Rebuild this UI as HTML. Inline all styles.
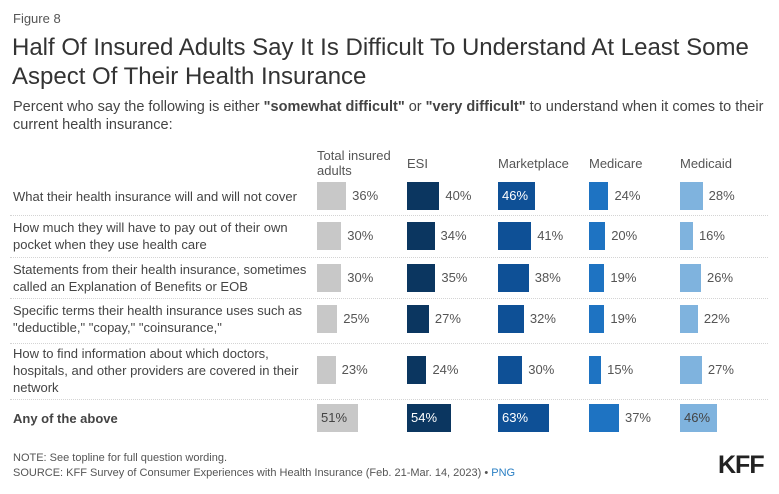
<!DOCTYPE html>
<html><head><meta charset="utf-8"><style>
body{margin:0;width:779px;height:494px;background:#fff;font-family:"Liberation Sans",Arial,sans-serif;color:#333;position:relative;overflow:hidden}
.a{position:absolute;white-space:nowrap}
.lbl{position:absolute;left:13px;font-size:13px;line-height:17px;color:#444}
.sep{position:absolute;left:10px;width:758px;border-top:1px dotted #d4d4d4;height:0}
.hdr{position:absolute;font-size:13px;line-height:15px;color:#555}
.bar{position:absolute;height:28px}
.val{position:absolute;font-size:13px;line-height:28px;color:#555}
</style></head><body>
<div class="a" style="left:13px;top:11px;font-size:13px;color:#555">Figure 8</div>
<div class="a" style="left:12px;top:33px;font-size:24px;line-height:29px;color:#333">Half Of Insured Adults Say It Is Difficult To Understand At Least Some<br>Aspect Of Their Health Insurance</div>
<div class="a" style="left:13px;top:98px;font-size:14.5px;line-height:18px;color:#444">Percent who say the following is either <b>"somewhat difficult"</b> or <b>"very difficult"</b> to understand when it comes to their<br>current health insurance:</div>
<div id="chart"></div>
<div class="a" style="left:13px;top:452px;font-size:11px;color:#555">NOTE: See topline for full question wording.</div>
<div class="a" style="left:13px;top:467px;font-size:11px;color:#555">SOURCE: KFF Survey of Consumer Experiences with Health Insurance (Feb. 21-Mar. 14, 2023) • <span style="color:#2a7fc4">PNG</span></div>
<div class="a" style="left:718px;top:451px;font-size:25px;font-weight:bold;color:#222;letter-spacing:-1px">KFF</div>
<script>
const categories=["What their health insurance will and will not cover","How much they will have to pay out of their own<br>pocket when they use health care","Statements from their health insurance, sometimes<br>called an Explanation of Benefits or EOB","Specific terms their health insurance uses such as<br>\"deductible,\" \"copay,\" \"coinsurance,\"","How to find information about which doctors,<br>hospitals, and other providers are covered in their<br>network","<b>Any of the above</b>"];
const seriesNames=["Total insured<br>adults","ESI","Marketplace","Medicare","Medicaid"];
const totalVals=[36,30,30,25,23,51];
const esiVals=[40,34,35,27,24,54];
const marketVals=[46,41,38,32,30,63];
const medicareVals=[24,20,19,19,15,37];
const medicaidVals=[28,16,26,22,27,46];
const series=[totalVals,esiVals,marketVals,medicareVals,medicaidVals];
const colors=["#c8c8c8","#0b3660","#0e5096","#1e73c2","#7fb3de"];
const inText=["#444","#fff","#fff","#fff","#444"];
const colX=[317,407,498,589,680];
const rowCenter=[196,236,278,319,370,418];
const seps=[215,257,298,343,399];
const scale=0.81;
const x=v=>v*scale;
const root=document.getElementById('chart');
seriesNames.forEach((n,i)=>{const d=document.createElement('div');d.className='hdr';


d.style.left=colX[i]+'px';d.style.top=(i==0?148:156)+'px';d.innerHTML=n;root.appendChild(d);});
categories.forEach((c,r)=>{const nl=(c.match(/<br>/g)||[]).length+1;const d=document.createElement('div');d.className='lbl';


d.style.top=(rowCenter[r]-nl*17/2)+'px';d.innerHTML=c;root.appendChild(d);
series.forEach((s,i)=>{const v=s[r];const w=x(v);const b=document.createElement('div');b.className='bar';


b.style.left=colX[i]+'px';b.style.top=(rowCenter[r]-14)+'px';b.style.width=w+'px';b.style.background=colors[i];root.appendChild(b);
const t=document.createElement('div');t.className='val';


t.style.top=(rowCenter[r]-14)+'px';t.textContent=v+'%';
if(v>=45){t.style.left=(colX[i]+4)+'px';t.style.color=inText[i];}else{t.style.left=(colX[i]+w+6)+'px';}
root.appendChild(t);});});
seps.forEach(y=>{const s=document.createElement('div');s.className='sep';


s.style.top=y+'px';root.appendChild(s);});
</script>
</body></html>
